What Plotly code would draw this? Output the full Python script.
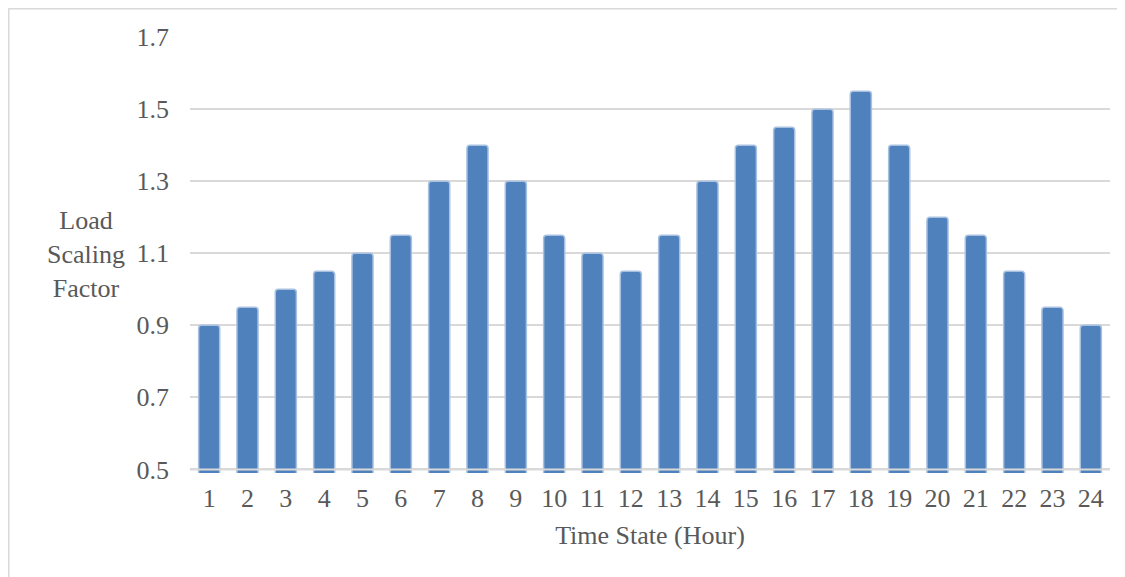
import plotly.graph_objects as go

hours = [str(h) for h in range(1, 25)]
load_factor = [0.9, 0.95, 1.0, 1.05, 1.1, 1.15, 1.3, 1.4, 1.3, 1.15, 1.1, 1.05,
               1.15, 1.3, 1.4, 1.45, 1.5, 1.55, 1.4, 1.2, 1.15, 1.05, 0.95, 0.9]
y_ticks = [0.5, 0.7, 0.9, 1.1, 1.3, 1.5, 1.7]

FONT = "Liberation Serif"
TXT = "#595959"
GRID = "#D9D9D9"
FS = 26

fig = go.Figure(go.Bar(
    x=hours, y=load_factor,
    marker=dict(color="#4F81BD", line=dict(color="#A9C1E0", width=1.5), cornerradius=3),
    width=0.55,
))

# page is offset by an 8px body margin
OFF = 8
W, H = 1125 - OFF, 577 - OFF
L, R, T, B = 190 - OFF, 1110 - OFF, 37 - OFF, 472.6 - OFF
pw, ph = R - L, B - T

fig.update_layout(
    width=W, height=H,
    margin=dict(l=L, r=W - R, t=T, b=H - B, pad=0),
    plot_bgcolor="white", paper_bgcolor="white",
    showlegend=False,
    font=dict(family=FONT, color=TXT, size=FS),
    bargap=0.45,
    xaxis=dict(type="category", showgrid=False, zeroline=False, showline=False,
               ticks="", tickfont=dict(size=FS, color=TXT), ticklabelstandoff=7,
               title=dict(text="Time State (Hour)", font=dict(size=FS, color=TXT), standoff=13)),
    yaxis=dict(range=[0.49, 1.7005], tickvals=y_ticks, ticktext=[f"{v:g}" for v in y_ticks],
               showgrid=True, gridcolor=GRID, gridwidth=1.5, zeroline=False, showline=False,
               ticks="", tickfont=dict(size=FS, color=TXT), ticklabelstandoff=20),
)

# baseline at 0.5 drawn over bars
fig.add_shape(type="line", xref="paper", yref="y", x0=0, x1=1, y0=0.5, y1=0.5,
              line=dict(color=GRID, width=2), layer="above")

# outer chart-area border (top and left edges visible)
bx0 = (0.5 - L) / pw
by0 = 1 + (T - 0.5) / ph
bx1 = (W + 5 - L) / pw
by1 = -(H + 5 - B) / ph
fig.add_shape(type="line", xref="paper", yref="paper", x0=bx0, x1=bx1, y0=by0, y1=by0,
              line=dict(color=GRID, width=2), layer="above")
fig.add_shape(type="line", xref="paper", yref="paper", x0=bx0, x1=bx0, y0=by0, y1=by1,
              line=dict(color=GRID, width=2), layer="above")

fig.add_annotation(text="Load<br>Scaling<br>Factor", xref="paper", yref="paper",
                   x=(86 - OFF - L) / pw, y=1 - (254 - OFF - T) / ph, showarrow=False,
                   xanchor="center", yanchor="middle", align="center",
                   font=dict(size=FS, color=TXT, family=FONT))

fig.write_html("out.html")
